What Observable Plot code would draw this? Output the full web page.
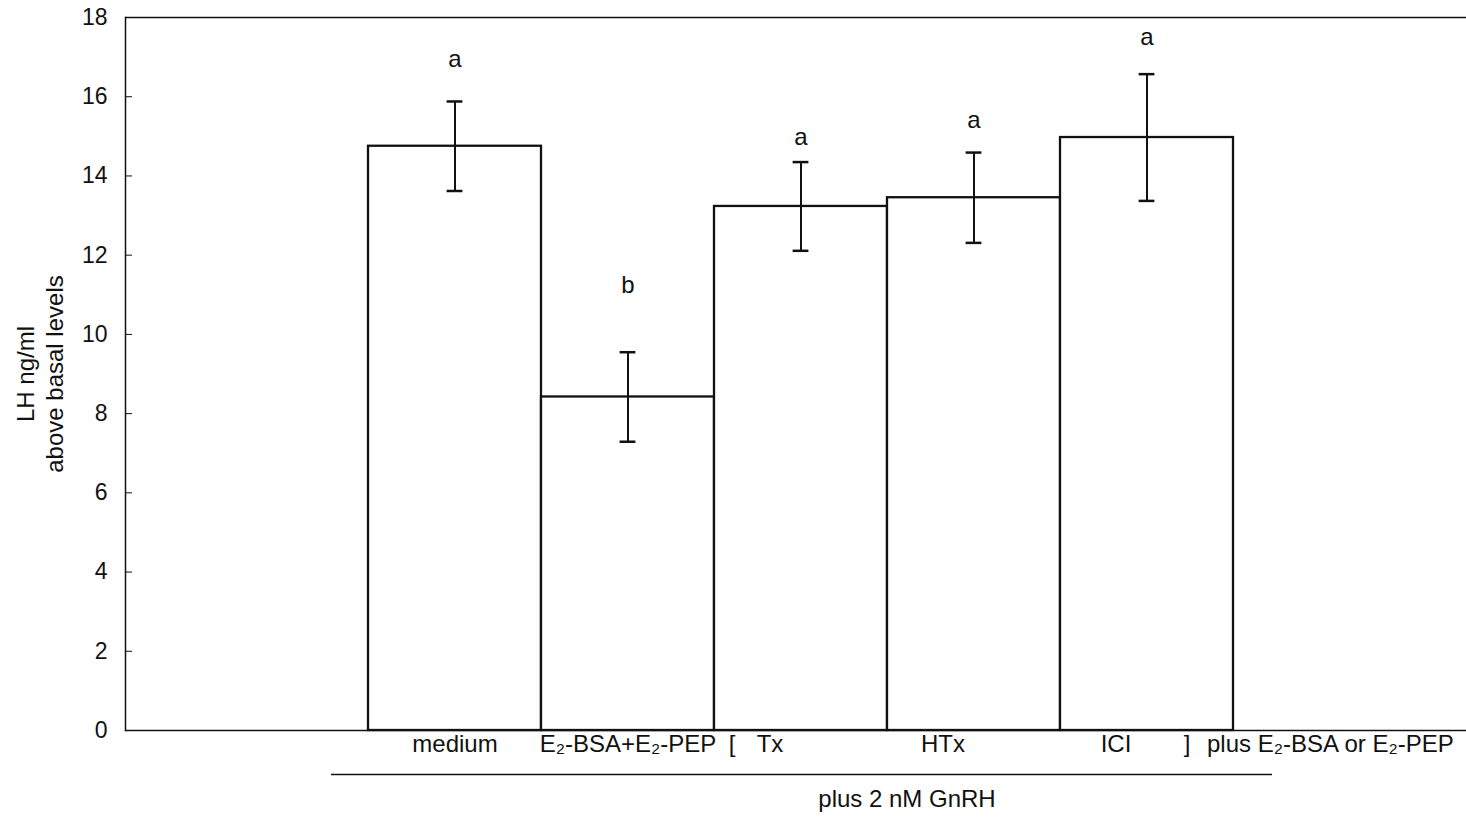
<!DOCTYPE html>
<html>
<head>
<meta charset="utf-8">
<script src="https://cdn.jsdelivr.net/npm/d3@7"></script>
<script src="https://cdn.jsdelivr.net/npm/@observablehq/plot@0.6"></script>
<style>
  html, body { margin: 0; padding: 0; background: #fff; }
  #chart svg { display: block; }
</style>
</head>
<body>
<div id="chart"></div>
<script>
// LH release (ng/ml above basal levels) after 2 nM GnRH, mean ± SEM
const treatments = ["medium", "E₂-BSA+E₂-PEP", "Tx", "HTx", "ICI"];
const lhMean = [14.75, 8.42, 13.23, 13.45, 14.97];
const lhSem = [1.13, 1.13, 1.12, 1.14, 1.6];
const groupLetters = ["a", "b", "a", "a", "a"];
const letterLevel = [16.95, 11.24, 14.98, 15.41, 17.49];
const yTicks = [0, 2, 4, 6, 8, 10, 12, 14, 16, 18];
// antagonists given together with the membrane-bound estradiol
const bracketed = ["Tx", "HTx", "ICI"];
const suffixLabel = "plus E₂-BSA or E₂-PEP";
const footLabel = "plus 2 nM GnRH";
const yLabelLines = ["LH ng/ml", "above basal levels"];

const rows = treatments.map((t, i) => ({
  treatment: t,
  mean: lhMean[i],
  sem: lhSem[i],
  letter: groupLetters[i],
  level: letterLevel[i]
}));

const xRange = [367.5, 1233.5];
const bandW = (xRange[1] - xRange[0]) / treatments.length;
const capInset = (bandW - 16) / 2;
const font = 24;
const ink = "#111";

const chart = Plot.plot({
  width: 1466,
  height: 823,
  marginLeft: 125,
  marginRight: 0,
  marginTop: 17,
  marginBottom: 93,
  style: { fontFamily: "'Liberation Sans', Arial, sans-serif", color: ink, background: "#fff" },
  x: { domain: treatments, range: xRange, padding: 0, axis: null },
  y: { domain: [0, 18], axis: null },
  marks: [
    // plot border: top, bottom and left edges
    Plot.ruleY([0, 18], { stroke: ink, strokeWidth: 1.5 }),
    Plot.frame({ anchor: "left", stroke: ink, strokeWidth: 1.5 }),
    Plot.axisY({ ticks: yTicks, tickSize: -7, tickPadding: 25, fontSize: 23, label: null, stroke: ink }),

    // bars
    Plot.barY(rows, { x: "treatment", y: "mean", fill: "white", stroke: ink, strokeWidth: 2.3 }),

    // error bars with caps
    Plot.ruleX(rows, { x: "treatment", y1: d => d.mean - d.sem, y2: d => d.mean + d.sem, stroke: ink, strokeWidth: 2 }),
    Plot.tickY(rows, { x: "treatment", y: d => d.mean - d.sem, insetLeft: capInset, insetRight: capInset, stroke: ink, strokeWidth: 2.5 }),
    Plot.tickY(rows, { x: "treatment", y: d => d.mean + d.sem, insetLeft: capInset, insetRight: capInset, stroke: ink, strokeWidth: 2.5 }),

    // significance letters
    Plot.text(rows, { x: "treatment", y: "level", text: "letter", fontSize: font, fill: ink }),

    // category labels under the bars
    Plot.text(rows.filter(d => !bracketed.includes(d.treatment)), {
      x: "treatment", frameAnchor: "bottom", dy: 21, text: "treatment", fontSize: font, fill: ink
    }),
    Plot.text(rows.filter(d => bracketed.includes(d.treatment)), {
      x: "treatment", frameAnchor: "bottom", dy: 21, dx: -31, text: "treatment", fontSize: font, fill: ink
    }),
    Plot.text(["["], { x: () => bracketed[0], frameAnchor: "bottom", dy: 21, dx: -69, text: d => d, fontSize: font, fill: ink }),
    Plot.text(["]"], { x: () => bracketed[bracketed.length - 1], frameAnchor: "bottom", dy: 21, dx: 40, text: d => d, fontSize: font, fill: ink }),
    Plot.text([suffixLabel], {
      x: () => bracketed[bracketed.length - 1], frameAnchor: "bottom", dy: 21, dx: 60,
      textAnchor: "start", text: d => d, fontSize: font, fill: ink
    }),

    // underline spanning all treatments and its caption
    Plot.ruleY([0], {
      x1: () => treatments[0], x2: () => treatments[treatments.length - 1],
      dy: 44, insetLeft: -37, insetRight: -39, stroke: ink, strokeWidth: 1.5
    }),
    Plot.text([footLabel], { x: () => "HTx", frameAnchor: "bottom", dy: 76, dx: -67, text: d => d, fontSize: font, fill: ink }),

    // y-axis title in two lines, centred on the frame height
    Plot.text([yLabelLines[0]], { frameAnchor: "left", textAnchor: "middle", rotate: -90, dx: -99, text: d => d, fontSize: font, fill: ink }),
    Plot.text([yLabelLines[1]], { frameAnchor: "left", textAnchor: "middle", rotate: -90, dx: -70, text: d => d, fontSize: font, fill: ink })
  ]
});

document.getElementById("chart").appendChild(chart);
</script>
</body>
</html>
